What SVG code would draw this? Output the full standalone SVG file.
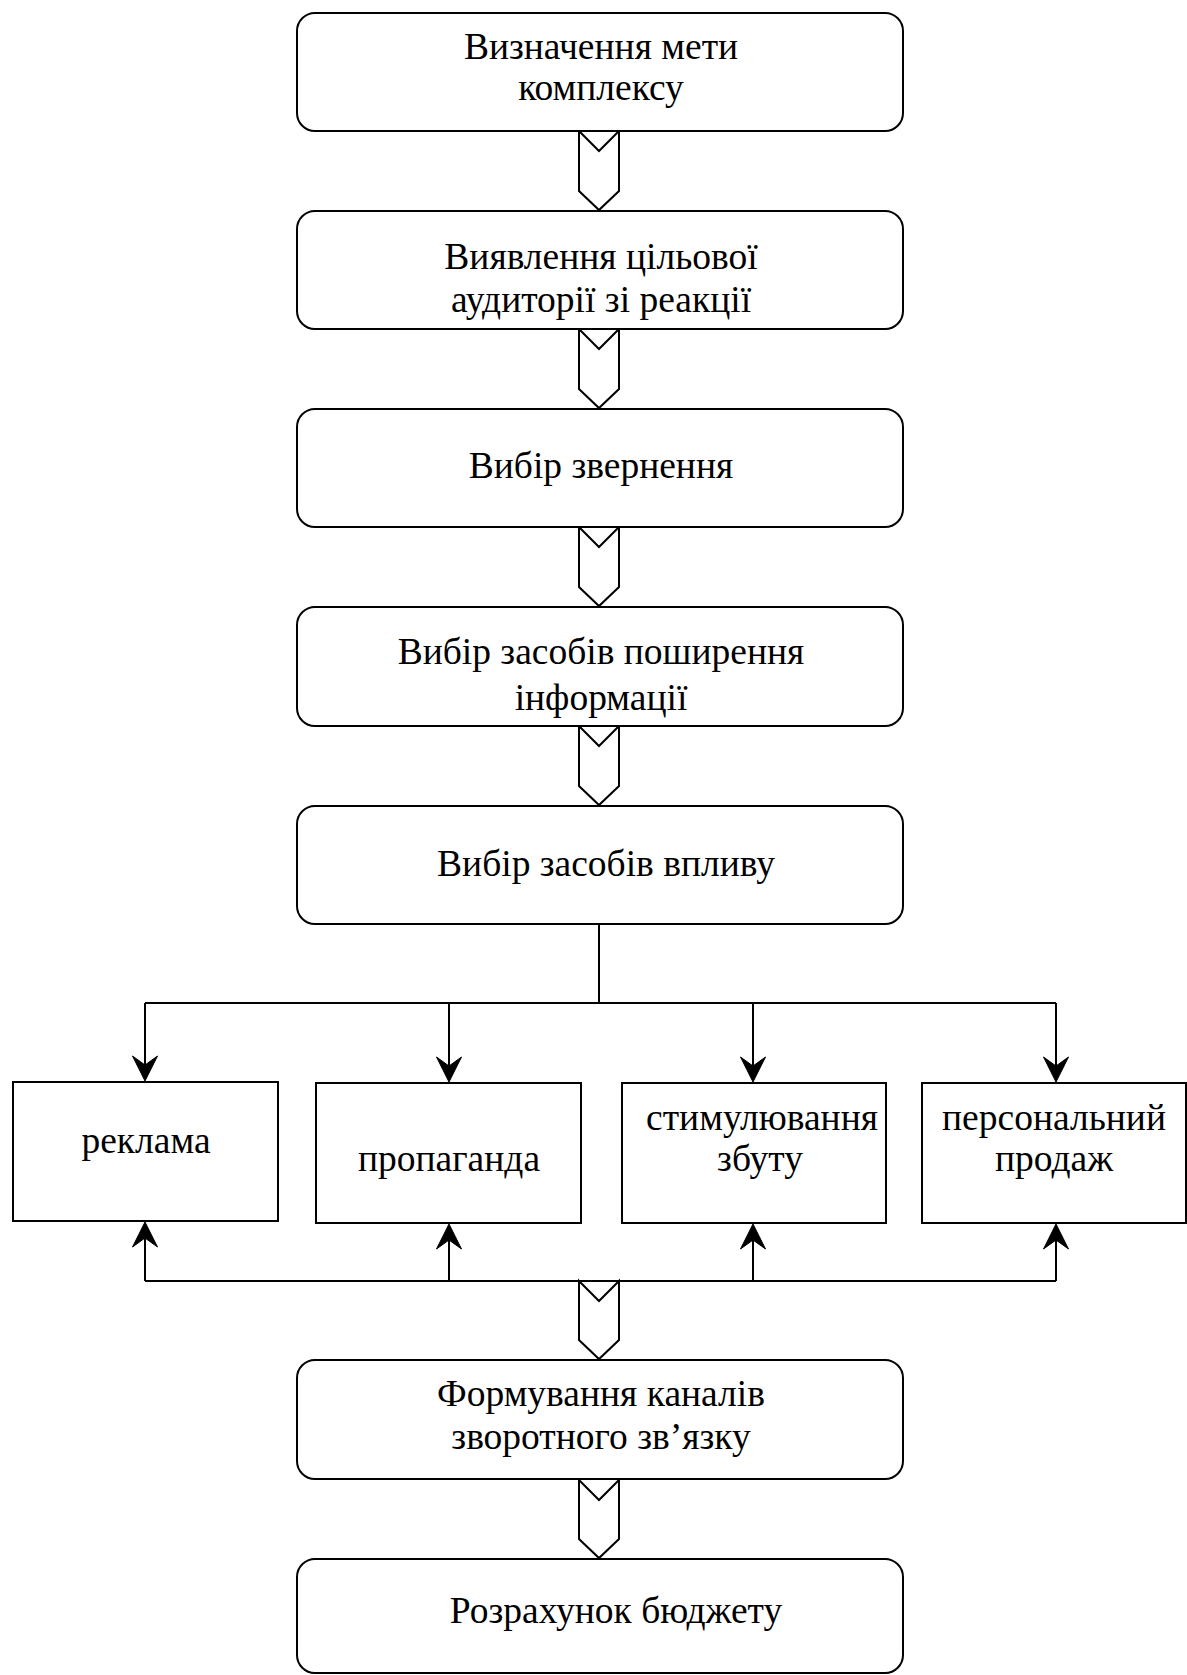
<svg xmlns="http://www.w3.org/2000/svg" xmlns:xlink="http://www.w3.org/1999/xlink" width="1187" height="1675" viewBox="0 0 1187 1675">
  <style>
    .step { fill: #fff; stroke: #000; stroke-width: 2; }
    .item { fill: #fff; stroke: #000; stroke-width: 2; }
    .flow { fill: #fff; stroke: #000; stroke-width: 2; stroke-linejoin: miter; }
    .wire { fill: none; stroke: #000; stroke-width: 2; }
    .tip { fill: #000; stroke: #000; stroke-width: 1; stroke-linejoin: miter; }
    text { font-family: "Liberation Serif", "Times New Roman", serif; font-size: 37.5px; fill: #000; text-anchor: middle; }
  </style>
  <defs>
    <!-- arrowhead pointing down, tip at the origin -->
    <path id="head" class="tip" d="M0 0 L-12.5 -25 L0 -16 L12.5 -25 Z"/>
  </defs>

  <rect width="1187" height="1675" fill="#fff"/>

  <!-- block arrows and branch lines -->
  <g id="connectors">
    <polygon class="flow" points="579,131 599,151 619,131 619,191 599,210 579,191"/>
    <polygon class="flow" points="579,329 599,349 619,329 619,389 599,408 579,389"/>
    <polygon class="flow" points="579,527 599,547 619,527 619,587 599,606 579,587"/>
    <polygon class="flow" points="579,726 599,746 619,726 619,786 599,805 579,786"/>
    <polygon class="flow" points="579,1281 599,1301 619,1281 619,1340 599,1359 579,1340"/>
    <polygon class="flow" points="579,1480 599,1500 619,1480 619,1539 599,1558 579,1539"/>

    <path class="wire" d="M599 924 V1003"/>
    <path class="wire" d="M145 1003 H1056"/>
    <path class="wire" d="M145 1003 V1070 M449 1003 V1070 M753 1003 V1070 M1056 1003 V1070"/>
    <use xlink:href="#head" href="#head" transform="translate(145,1081)"/>
    <use xlink:href="#head" href="#head" transform="translate(449,1082)"/>
    <use xlink:href="#head" href="#head" transform="translate(753,1082)"/>
    <use xlink:href="#head" href="#head" transform="translate(1056,1082)"/>

    <path class="wire" d="M145 1281 H1056"/>
    <path class="wire" d="M145 1281 V1235 M449 1281 V1235 M753 1281 V1235 M1056 1281 V1235"/>
    <use xlink:href="#head" href="#head" transform="translate(145,1222) rotate(180)"/>
    <use xlink:href="#head" href="#head" transform="translate(449,1224) rotate(180)"/>
    <use xlink:href="#head" href="#head" transform="translate(753,1224) rotate(180)"/>
    <use xlink:href="#head" href="#head" transform="translate(1056,1224) rotate(180)"/>
  </g>

  <g id="goal">
    <rect class="step" x="297" y="13" width="606" height="118" rx="18"/>
    <text x="601" y="59">Визначення мети</text>
    <text x="601" y="100">комплексу</text>
  </g>
  <g id="audience">
    <rect class="step" x="297" y="211" width="606" height="118" rx="18"/>
    <text x="601" y="269">Виявлення цільової</text>
    <text x="601" y="312">аудиторії зі реакції</text>
  </g>
  <g id="appeal">
    <rect class="step" x="297" y="409" width="606" height="118" rx="18"/>
    <text x="601" y="478">Вибір звернення</text>
  </g>
  <g id="media">
    <rect class="step" x="297" y="607" width="606" height="119" rx="18"/>
    <text x="601" y="664">Вибір засобів поширення</text>
    <text x="601" y="710">інформації</text>
  </g>
  <g id="tools">
    <rect class="step" x="297" y="806" width="606" height="118" rx="18"/>
    <text x="606" y="876">Вибір засобів впливу</text>
  </g>

  <g id="advertising">
    <rect class="item" x="13" y="1082" width="265" height="139"/>
    <text x="146" y="1153">реклама</text>
  </g>
  <g id="propaganda">
    <rect class="item" x="316" y="1083" width="265" height="140"/>
    <text x="449" y="1171">пропаганда</text>
  </g>
  <g id="sales-promotion">
    <rect class="item" x="622" y="1083" width="264" height="140"/>
    <text x="762" y="1130">стимулювання</text>
    <text x="760" y="1171">збуту</text>
  </g>
  <g id="personal-selling">
    <rect class="item" x="922" y="1083" width="264" height="140"/>
    <text x="1054" y="1130">персональний</text>
    <text x="1054" y="1171">продаж</text>
  </g>

  <g id="feedback">
    <rect class="step" x="297" y="1360" width="606" height="119" rx="18"/>
    <text x="601" y="1406">Формування каналів</text>
    <text x="601" y="1449">зворотного зв’язку</text>
  </g>
  <g id="budget">
    <rect class="step" x="297" y="1559" width="606" height="114" rx="18"/>
    <text x="616" y="1623">Розрахунок бюджету</text>
  </g>
</svg>
